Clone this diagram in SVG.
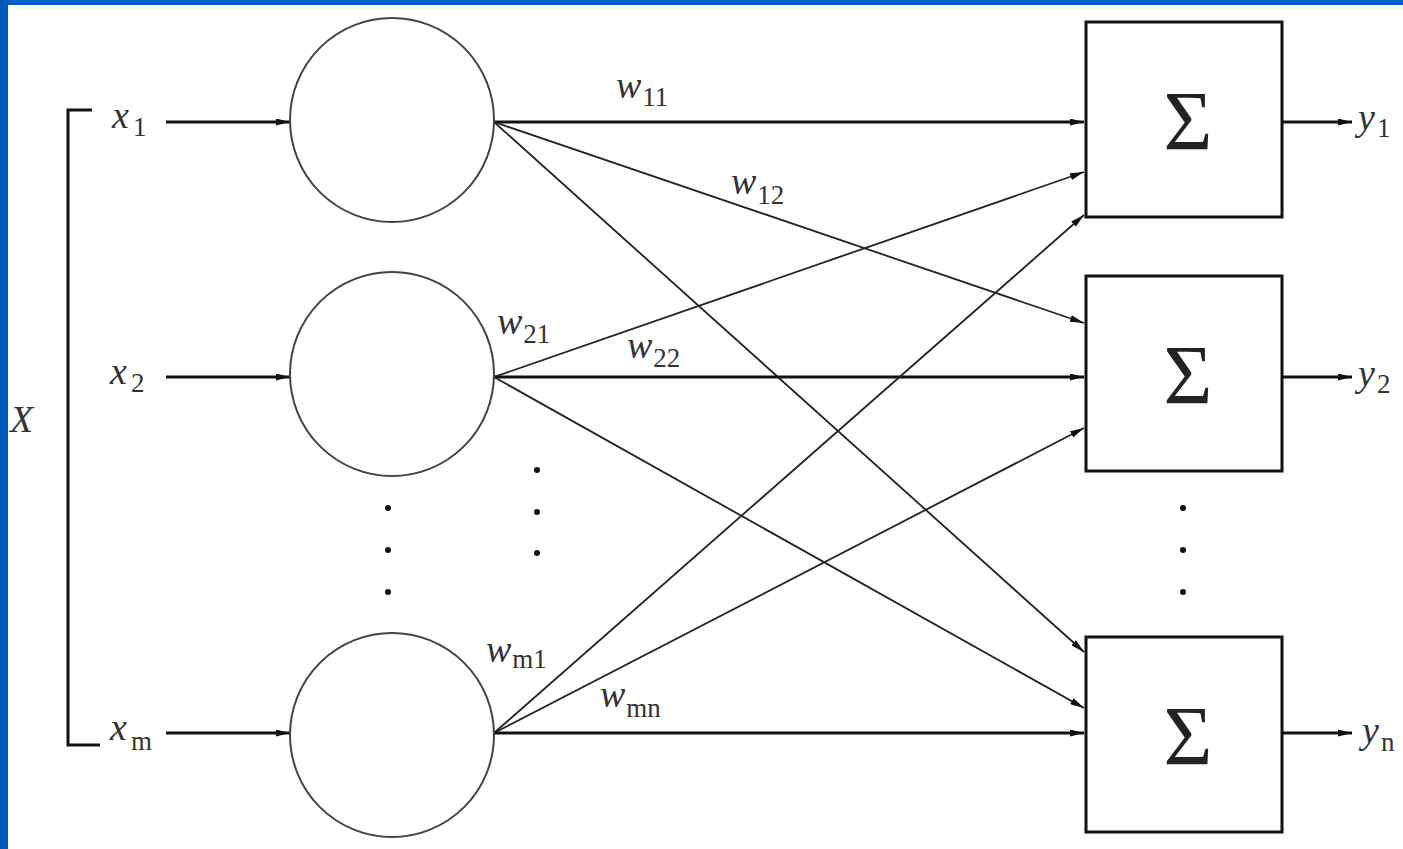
<svg xmlns="http://www.w3.org/2000/svg" width="1403" height="849" viewBox="0 0 1403 849">
<style>
.lbl{font-family:"Liberation Serif","DejaVu Serif",serif;font-style:italic;font-size:38px;fill:#333}
.sub{font-family:"Liberation Serif","DejaVu Serif",serif;font-style:normal;font-size:27px;fill:#333}
.sig{font-family:"Liberation Serif","DejaVu Serif",serif;font-size:84px;fill:#222;text-anchor:middle}
.h{stroke:#111;stroke-width:3;fill:none}
.d{stroke:#222;stroke-width:1.8;fill:none}
.node{fill:#fff;stroke:#444;stroke-width:2}
.box{fill:#fff;stroke:#111;stroke-width:3}
.dot{fill:#111}
</style>
<defs>
<marker id="ahb" viewBox="0 0 14 7" refX="14" refY="3.5" markerWidth="14" markerHeight="7" markerUnits="userSpaceOnUse" orient="auto">
<path d="M0,0 L14,3.5 L0,7 z" fill="#111"/>
</marker>
</defs>
<rect x="0" y="0" width="1403" height="849" fill="#fff"/>
<rect x="0" y="0" width="1403" height="5" fill="#0062c6"/>
<rect x="0" y="0" width="8" height="849" fill="#0058b8"/>

<g id="connectors">
<path class="h" d="M92,110 H68 V745 H100"/>
<line class="h" x1="166" y1="122" x2="290" y2="122" marker-end="url(#ahb)"/>
<line class="h" x1="166" y1="377" x2="290" y2="377" marker-end="url(#ahb)"/>
<line class="h" x1="166" y1="733" x2="290" y2="733" marker-end="url(#ahb)"/>
<line class="h" x1="494" y1="122" x2="1084" y2="122" marker-end="url(#ahb)"/>
<line class="d" x1="494" y1="122" x2="1084" y2="323" marker-end="url(#ahb)"/>
<line class="d" x1="494" y1="122" x2="1084" y2="652" marker-end="url(#ahb)"/>
<line class="d" x1="494" y1="377" x2="1084" y2="172" marker-end="url(#ahb)"/>
<line class="h" x1="494" y1="377" x2="1084" y2="377" marker-end="url(#ahb)"/>
<line class="d" x1="494" y1="377" x2="1084" y2="708" marker-end="url(#ahb)"/>
<line class="d" x1="494" y1="733" x2="1084" y2="215" marker-end="url(#ahb)"/>
<line class="d" x1="494" y1="733" x2="1084" y2="428" marker-end="url(#ahb)"/>
<line class="h" x1="494" y1="733" x2="1084" y2="733" marker-end="url(#ahb)"/>
<line class="h" x1="1283" y1="122" x2="1352" y2="122" marker-end="url(#ahb)"/>
<line class="h" x1="1283" y1="377" x2="1352" y2="377" marker-end="url(#ahb)"/>
<line class="h" x1="1283" y1="733" x2="1352" y2="733" marker-end="url(#ahb)"/>
</g>

<g id="input-labels">
<text class="lbl" x="10" y="432">X</text>
<text class="lbl" x="112" y="128">x<tspan class="sub" dx="4" dy="8">1</tspan></text>
<text class="lbl" x="110" y="384">x<tspan class="sub" dx="4" dy="8">2</tspan></text>
<text class="lbl" x="110" y="740">x<tspan class="sub" dx="4" dy="10">m</tspan></text>
</g>

<g id="n1"><circle class="node" cx="392" cy="120" r="102"/></g>
<g id="n2"><circle class="node" cx="392" cy="374" r="102"/></g>
<g id="n3"><circle class="node" cx="392" cy="735" r="102"/></g>

<g id="dots">
<circle class="dot" cx="388" cy="508" r="3"/>
<circle class="dot" cx="388" cy="550" r="3"/>
<circle class="dot" cx="388" cy="592" r="3"/>
<circle class="dot" cx="537" cy="470" r="3"/>
<circle class="dot" cx="537" cy="512" r="3"/>
<circle class="dot" cx="537" cy="553" r="3"/>
<circle class="dot" cx="1183" cy="508" r="3"/>
<circle class="dot" cx="1183" cy="550" r="3"/>
<circle class="dot" cx="1183" cy="592" r="3"/>
</g>

<g id="weights">
<text class="lbl" x="616" y="98">w<tspan class="sub" dx="1" dy="8">11</tspan></text>
<text class="lbl" x="731" y="194">w<tspan class="sub" dx="1" dy="10">12</tspan></text>
<text class="lbl" x="497" y="334">w<tspan class="sub" dx="1" dy="9">21</tspan></text>
<text class="lbl" x="627" y="358">w<tspan class="sub" dx="1" dy="9">22</tspan></text>
<text class="lbl" x="486" y="662">w<tspan class="sub" dx="1" dy="6">m1</tspan></text>
<text class="lbl" x="600" y="707">w<tspan class="sub" dx="1" dy="10">mn</tspan></text>
</g>

<g id="s1"><rect class="box" x="1086" y="22" width="196" height="195"/><text class="sig" x="1188" y="150">Σ</text></g>
<g id="s2"><rect class="box" x="1086" y="276" width="196" height="195"/><text class="sig" x="1188" y="404">Σ</text></g>
<g id="s3"><rect class="box" x="1086" y="637" width="196" height="195"/><text class="sig" x="1188" y="765">Σ</text></g>

<g id="outputs">
<text class="lbl" x="1358" y="130">y<tspan class="sub" dx="2" dy="7">1</tspan></text>
<text class="lbl" x="1358" y="386">y<tspan class="sub" dx="2" dy="7">2</tspan></text>
<text class="lbl" x="1362" y="743">y<tspan class="sub" dx="2" dy="8">n</tspan></text>
</g>
</svg>
